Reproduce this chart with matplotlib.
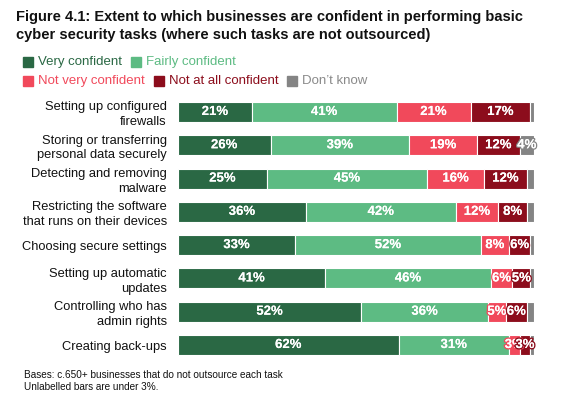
import matplotlib
matplotlib.use("Agg")
import matplotlib.pyplot as plt
import matplotlib.patheffects as pe
from matplotlib.patches import Rectangle

plt.rcParams['font.family'] = ['Liberation Sans', 'DejaVu Sans']

categories = [
    "Setting up configured\nfirewalls",
    "Storing or transferring\npersonal data securely",
    "Detecting and removing\nmalware",
    "Restricting the software\nthat runs on their devices",
    "Choosing secure settings",
    "Setting up automatic\nupdates",
    "Controlling who has\nadmin rights",
    "Creating back-ups",
]
series_names = ["Very confident", "Fairly confident", "Not very confident",
                "Not at all confident", "Don\u2019t know"]
very_confident = [21, 26, 25, 36, 33, 41, 52, 62]
fairly_confident = [41, 39, 45, 42, 52, 46, 36, 31]
not_very_confident = [21, 19, 16, 12, 8, 6, 5, 3]
not_at_all_confident = [17, 12, 12, 8, 6, 5, 6, 3]
dont_know = [1, 4, 2, 2, 1, 1, 2, 1]
colors = ["#2a6844", "#5dbb83", "#f1495b", "#8c0d1c", "#848484"]
text_colors = ["#2a6844", "#5dbb83", "#f1495b", "#8c0d1c", "#8a8a8a"]

series = [very_confident, fairly_confident, not_very_confident,
          not_at_all_confident, dont_know]

W, H = 563, 397
fig = plt.figure(figsize=(W / 100, H / 100), dpi=100)

def fx(px):
    return px / W

def fy(py):
    return 1 - py / H

# Title
title_lines = ["Figure 4.1: Extent to which businesses are confident in performing basic",
               "cyber security tasks (where such tasks are not outsourced)"]
for line, base in zip(title_lines, [21, 39]):
    fig.text(fx(16), fy(base), line, fontsize=10.5, fontweight='bold',
             color='#111111', va='baseline', ha='left')

# Legend (manual, two rows)
renderer = fig.canvas.get_renderer()
rows = [[0, 1], [2, 3, 4]]
row_y = [62, 81]
for r, idxs in enumerate(rows):
    x = 23
    for i in idxs:
        fig.patches.append(Rectangle((fx(x), fy(row_y[r] + 5)), 10 / W, 10 / H,
                                     transform=fig.transFigure, color=colors[i]))
        t = fig.text(fx(x + 15), fy(row_y[r]), series_names[i], fontsize=9.5,
                     color=text_colors[i], va='center', ha='left')
        bb = t.get_window_extent(renderer=renderer)
        x = x + 15 + bb.width + 9

# Bars axis
top_px, bot_px = 95.35, 361.65
left_px, right_px = 178, 534
ax = fig.add_axes([fx(left_px), fy(bot_px), (right_px - left_px) / W, (bot_px - top_px) / H])
n = len(categories)
ypos = list(range(n))
totals = [sum(s[k] for s in series) for k in range(n)]
lefts = [0.0] * n
for si, s in enumerate(series):
    widths = [s[k] / totals[k] * 100 for k in range(n)]
    ax.barh(ypos, widths, left=lefts, height=0.6, color=colors[si],
            edgecolor='white', linewidth=0.8)
    for k in range(n):
        if s[k] >= 3:
            t = ax.text(lefts[k] + widths[k] / 2, k, f"{s[k]}%", ha='center', va='center',
                        color='white', fontsize=9.5, fontweight='bold')
            t.set_path_effects([pe.withStroke(linewidth=2, foreground=colors[si]), pe.Normal()])
    lefts = [lefts[k] + widths[k] for k in range(n)]

ax.set_xlim(0, 100)
ax.set_ylim(n - 0.5, -0.5)
ax.set_yticks(ypos)
ax.set_yticklabels(categories, fontsize=9.3, color='#111111', linespacing=1.3)
ax.tick_params(axis='y', length=0, pad=8)
ax.set_xticks([])
for sp in ax.spines.values():
    sp.set_visible(False)

# Footnotes
fig.text(fx(24), fy(374.5), "Bases: c.650+ businesses that do not outsource each task",
         fontsize=7.2, color='#111111', va='center', ha='left')
fig.text(fx(24), fy(387), "Unlabelled bars are under 3%.",
         fontsize=7.2, color='#111111', va='center', ha='left')

fig.savefig("out.png", dpi=100)
